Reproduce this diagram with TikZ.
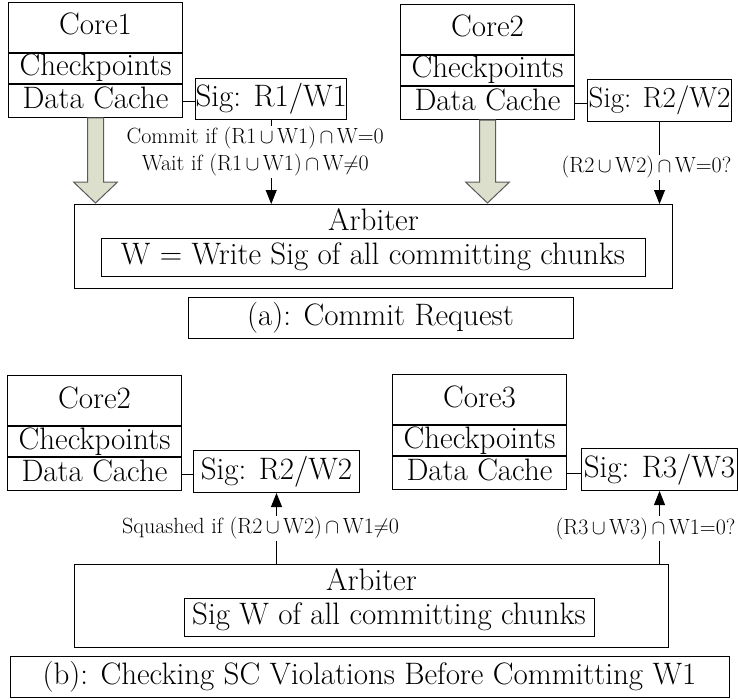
\documentclass[tikz,border=0pt]{standalone}
\usetikzlibrary{arrows.meta,calc}
\newcommand{\mainsz}{\fontsize{31}{34}\selectfont}
\newcommand{\tightsz}{\fontsize{29}{32}\selectfont}
\newcommand{\notesz}{\fontsize{22}{27}\selectfont}
\definecolor{arrowfill}{HTML}{DCDFCB}
\definecolor{arrowline}{HTML}{5A5A5A}
\tikzset{
  box/.style={draw, line width=1pt, inner sep=0pt, font=\mainsz,
              text height=21.5pt, text depth=6.5pt},
  corecol/.style={box, minimum width=174pt},
  arbiter/.style={draw, line width=1pt, inner sep=0pt, font=\mainsz,
              text height=26pt, text depth=#1},
  note/.style={font=\notesz, fill=white, inner sep=1.5pt, align=center},
  sigline/.style={line width=0.8pt},
  probe/.style={sigline, -{Triangle[length=14pt,width=11pt]}},
  fatarrow/.style={draw=arrowline, fill=arrowfill, line width=1pt, line join=miter},
}
\begin{document}
\begin{tikzpicture}[x=1pt,y=-1pt]
\useasboundingbox (0,0) rectangle (738,698);

% ---------------- (a) Commit request ----------------
% Core1
\node[corecol, anchor=north west, minimum height=50pt] (c1name) at (8,2) {Core1};
\node[corecol, anchor=north, minimum height=30pt] (c1chk) at (c1name.south) {Checkpoints};
\node[corecol, anchor=north, minimum height=33pt] (c1dc) at (c1chk.south) {Data Cache};
\node[box, anchor=north west, minimum width=151pt, minimum height=41pt] (s1) at (195,78) {Sig: R1/W1};
\draw[sigline] (c1dc.east) -- (c1dc.east -| s1.west);

% Core2
\node[corecol, anchor=north west, minimum height=50pt] (c2name) at (400,4) {Core2};
\node[corecol, anchor=north, minimum height=30pt] (c2chk) at (c2name.south) {Checkpoints};
\node[corecol, anchor=north, minimum height=33pt] (c2dc) at (c2chk.south) {Data Cache};
\node[box, font=\tightsz, anchor=north west, minimum width=144pt, minimum height=42pt] (s2) at (587,79) {Sig: R2/W2};
\draw[sigline] (c2dc.east) -- (c2dc.east -| s2.west);

% Arbiter (title sits on the first baseline, 26pt below the top edge)
\node[arbiter=58pt, anchor=north west, minimum width=598pt] (arbA) at (74,204) {Arbiter};
\node[box, minimum width=544pt, minimum height=38pt] (wsigA) at (373,257)
  {W = Write Sig of all committing chunks};

% caption
\node[box, minimum width=385pt, minimum height=41pt] (capA) at (380.5,317.5) {(a): Commit Request};

% data flow from the cores
\draw[fatarrow] let \p1=(c1dc.south), \p2=(arbA.north) in
  (\x1-8pt,\y1) -- (\x1+8pt,\y1) -- (\x1+8pt,\y2+22pt) -- (\x1+22pt,\y2+22pt)
  -- (\x1,\y2+1pt) -- (\x1-22pt,\y2+22pt) -- (\x1-8pt,\y2+22pt) -- cycle;
\draw[fatarrow] let \p1=(c2dc.south), \p2=(arbA.north) in
  (\x1-8pt,\y1) -- (\x1+8pt,\y1) -- (\x1+8pt,\y2+22pt) -- (\x1+22pt,\y2+22pt)
  -- (\x1,\y2+1pt) -- (\x1-22pt,\y2+22pt) -- (\x1-8pt,\y2+22pt) -- cycle;

% signature checks sent to the arbiter
\draw[probe] (s1.south) -- node[note, pos=0.376, xshift=-16pt]
  {Commit if (R1$\,\cup\,$W1)$\,\cap\,$W=0\\Wait if (R1$\,\cup\,$W1)$\,\cap\,$W$\neq$0}
  (s1.south |- arbA.north);
\draw[probe] (s2.south) -- node[note, pos=0.55, xshift=-13pt]
  {(R2$\,\cup\,$W2)$\,\cap\,$W=0?}
  (s2.south |- arbA.north);

% ---------------- (b) Checking SC violations ----------------
% Core2
\node[corecol, anchor=north west, minimum height=50pt] (d2name) at (7,375) {Core2};
\node[corecol, anchor=north, minimum height=30pt] (d2chk) at (d2name.south) {Checkpoints};
\node[corecol, anchor=north, minimum height=33pt] (d2dc) at (d2chk.south) {Data Cache};
\node[box, anchor=north west, minimum width=166pt, minimum height=42pt] (t2) at (193,450) {Sig: R2/W2};
\draw[sigline] (d2dc.east) -- (d2dc.east -| t2.west);

% Core3
\node[corecol, anchor=north west, minimum height=50pt] (d3name) at (392,374) {Core3};
\node[corecol, anchor=north, minimum height=30pt] (d3chk) at (d3name.south) {Checkpoints};
\node[corecol, anchor=north, minimum height=33pt] (d3dc) at (d3chk.south) {Data Cache};
\node[box, anchor=north west, minimum width=156pt, minimum height=42pt] (t3) at (581,448) {Sig: R3/W3};
\draw[sigline] (d3dc.east) -- (d3dc.east -| t3.west);

% Arbiter
\node[arbiter=57pt, anchor=north west, minimum width=594pt] (arbB) at (74,564) {Arbiter};
\node[box, minimum width=410pt, minimum height=38pt] (wsigB) at (389,617)
  {Sig W of all committing chunks};

% caption
\node[box, minimum width=719pt, minimum height=41pt] (capB) at (369.5,676.5)
  {(b): Checking SC Violations Before Committing W1};

% write signature broadcast back to the cores
\draw[probe] (arbB.north -| t2.south) -- node[note, pos=0.5, xshift=-16pt]
  {Squashed if (R2$\,\cup\,$W2)$\,\cap\,$W1$\neq$0}
  (t2.south);
\draw[probe] (arbB.north -| t3.south) -- node[note, pos=0.486, xshift=-14pt]
  {(R3$\,\cup\,$W3)$\,\cap\,$W1=0?}
  (t3.south);
\end{tikzpicture}
\end{document}
